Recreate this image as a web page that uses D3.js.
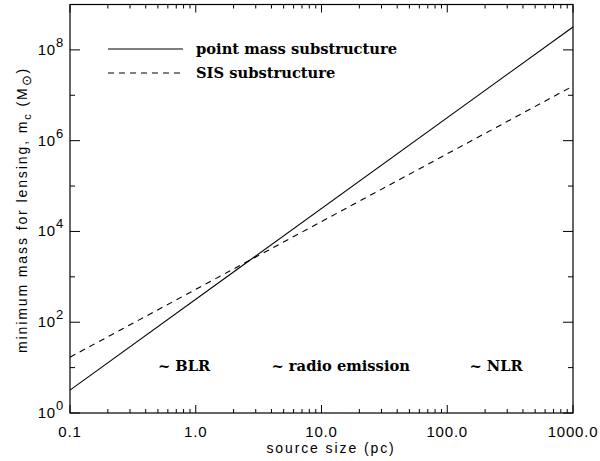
<!DOCTYPE html>
<html><head><meta charset="utf-8">
<script src="https://cdn.jsdelivr.net/npm/d3@7"></script>
<style>body{margin:0;background:#fff}</style>
</head><body>
<svg id="c" width="600" height="461"></svg>
<script>
const sourceSize = [0.1, 1000];
const pointMass = [3.2, 3.2e8];
const sisMass = [17, 1.6e7];
const xTickLabels = ["0.1", "1.0", "10.0", "100.0", "1000.0"];
const yTickExps = [0, 2, 4, 6, 8];
const regionLabels = [{x: 0.5, t: "~ BLR"}, {x: 4, t: "~ radio emission"}, {x: 150, t: "~ NLR"}];
const legendItems = [{t: "point mass substructure", dash: null}, {t: "SIS substructure", dash: "6,5"}];

const svg = d3.select("#c");
const L = 70, R = 573, T = 4.5, B = 413;
const x = d3.scaleLog().domain([0.1, 1000]).range([L, R]);
const y = d3.scaleLog().domain([1, 1e9]).range([B, T]);
const sans = "'Liberation Sans', Arial, sans-serif";
const serif = "'DejaVu Serif', serif";

svg.append("rect").attr("x", L).attr("y", T).attr("width", R - L).attr("height", B - T)
  .attr("fill", "none").attr("stroke", "#000").attr("stroke-width", 1.2);

const xMajor = [0.1, 1, 10, 100, 1000];
const xMinor = [];
for (let d = 0.1; d < 1000; d *= 10) for (let k = 2; k <= 9; k++) xMinor.push(d * k);
const tick = (x1, y1, x2, y2) => svg.append("line").attr("x1", x1).attr("y1", y1).attr("x2", x2).attr("y2", y2).attr("stroke", "#000").attr("stroke-width", 1);
xMajor.forEach(v => { tick(x(v), B, x(v), B - 8); tick(x(v), T, x(v), T + 8); });
xMinor.forEach(v => { tick(x(v), B, x(v), B - 4); tick(x(v), T, x(v), T + 4); });
for (let e = 0; e <= 9; e++) {
  const len = e % 2 === 0 ? 10 : 5;
  const yy = y(Math.pow(10, e));
  tick(L, yy, L + len, yy); tick(R, yy, R - len, yy);
}

xMajor.forEach((v, i) => {
  svg.append("text").attr("x", x(v)).attr("y", 437).attr("text-anchor", "middle")
    .attr("font-family", sans).attr("font-size", 15).attr("letter-spacing", 0.8).text(xTickLabels[i]);
});
yTickExps.forEach(e => {
  const yy = y(Math.pow(10, e));
  const t = svg.append("text").attr("x", 64).attr("y", yy + 5).attr("text-anchor", "end")
    .attr("font-family", sans).attr("font-size", 15).attr("letter-spacing", 0.8);
  t.append("tspan").text("10");
  t.append("tspan").attr("dy", -8).attr("font-size", 13).text(e);
});

svg.append("text").attr("x", 331).attr("y", 453).attr("text-anchor", "middle")
  .attr("font-family", sans).attr("font-size", 14).attr("letter-spacing", 1.9).text("source size (pc)");

const yl = svg.append("text").attr("transform", `translate(27,210) rotate(-90)`)
  .attr("text-anchor", "middle").attr("font-family", sans).attr("font-size", 14).attr("letter-spacing", 1.9);
yl.append("tspan").text("minimum mass for lensing, m");
yl.append("tspan").attr("dy", 4).attr("font-size", 11).text("c");
yl.append("tspan").attr("dy", -4).text(" (M");
yl.append("tspan").attr("dy", 4).attr("font-size", 13).text("\u2299");
yl.append("tspan").attr("dy", -4).text(")");

const line = d3.line().x(d => x(d[0])).y(d => y(d[1]));
const g = svg.append("g");
g.append("path").datum(sourceSize.map((s, i) => [s, pointMass[i]])).attr("d", line)
  .attr("fill", "none").attr("stroke", "#000").attr("stroke-width", 1.1);
g.append("path").datum(sourceSize.map((s, i) => [s, sisMass[i]])).attr("d", line)
  .attr("fill", "none").attr("stroke", "#000").attr("stroke-width", 1.1).attr("stroke-dasharray", "6,5");

legendItems.forEach((d, i) => {
  const yy = 49 + i * 24;
  svg.append("line").attr("x1", 108).attr("x2", 183).attr("y1", yy).attr("y2", yy)
    .attr("stroke", "#000").attr("stroke-width", 1.1).attr("stroke-dasharray", d.dash);
  svg.append("text").attr("x", 196).attr("y", yy + 5).attr("font-family", serif)
    .attr("font-weight", "bold").attr("font-size", 14.7).text(d.t);
});

regionLabels.forEach(d => {
  svg.append("text").attr("x", x(d.x)).attr("y", 371).attr("font-family", serif)
    .attr("font-weight", "bold").attr("font-size", 14.7).text(d.t);
});
</script>
</body></html>
